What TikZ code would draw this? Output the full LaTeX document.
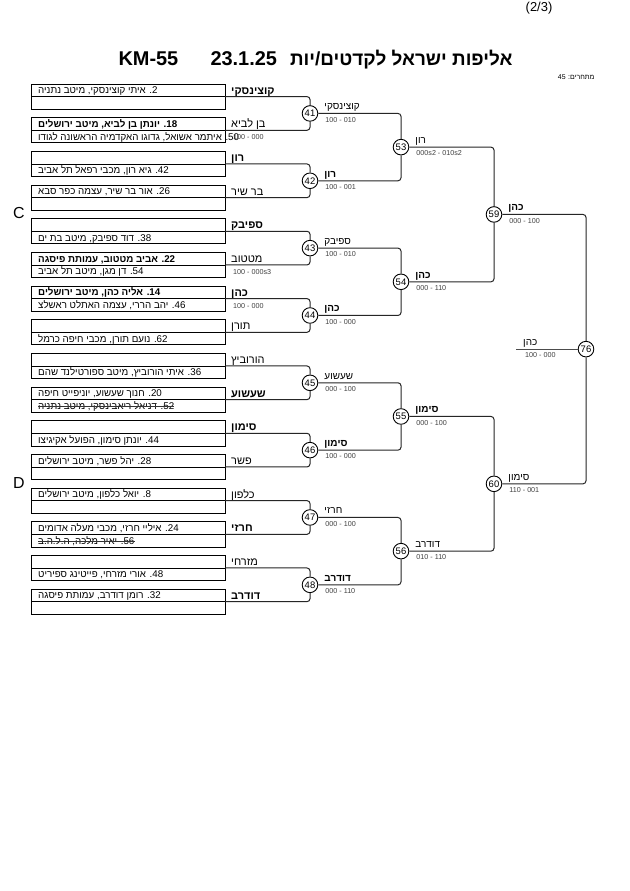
\documentclass[tikz,border=0pt]{standalone}
\usepackage{fontspec}
\setmainfont{Liberation Sans}
\newfontfamily\hebfont[Script=Hebrew]{Liberation Sans}
\TeXXeTstate=1
\usetikzlibrary{positioning}

% right-to-left text
\newcommand{\heb}[1]{{\hebfont\beginR #1\endR}}

\tikzset{
  cell/.style={draw, line width=0.8bp, minimum width=194bp, minimum height=12.6bp,
    inner sep=0pt, outer sep=0pt, anchor=north west},
  player/.style={anchor=base west, inner sep=0pt, font=\fontsize{9.8}{11}\selectfont},
  entrant/.style={anchor=base west, inner sep=0pt, font=\fontsize{11}{12}\selectfont},
  victor/.style={anchor=base west, inner sep=0pt, font=\fontsize{10}{11}\selectfont},
  score/.style={anchor=base west, inner sep=0pt, text=black!75, font=\fontsize{7.2}{8}\selectfont},
  bout/.style={circle, draw, line width=0.9bp, fill=white, minimum size=15.6bp,
    inner sep=0pt, font=\fontsize{9.5}{11}\selectfont},
  link/.style={draw=black!85, line width=1bp, rounded corners=3bp},
  strike/.style={draw=black!80, line width=0.7bp},
}

\begin{document}
\begin{tikzpicture}[x=1bp, y=-1bp]
    % the page, 630 x 891
    \path[use as bounding box, fill=white] (0,0) rectangle (630,891);

    % heading
    \node[font=\fontsize{13}{15}\selectfont] (page) at (539,8) {(2/3)};
    \node[anchor=base east, font=\fontsize{19}{23}\selectfont\bfseries] (title) at (516,65) {\heb{אליפות ישראל לקדטים/יות}};
    \node[anchor=base west, font=\fontsize{20}{24}\selectfont\bfseries] (date) at (207,65) {23.1.25};
    \node[anchor=base west, font=\fontsize{20}{24}\selectfont\bfseries] (cat) at (115,65) {KM-55};
    \node[anchor=base east, font=\fontsize{7}{8}\selectfont] (count) at (598,79) {\heb{מתחרים: 45}};

    % pool letters
    \node[font=\fontsize{16}{18}\selectfont] (poolC) at (19,213) {C};
    \node[font=\fontsize{16}{18}\selectfont] (poolD) at (19,483) {D};

    % first round: two rows per draw box
    \foreach \i/\up/\dn/\nm in {
        1/{2. איתי קוצינסקי, מיטב נתניה}/{}/{\bfseries קוצינסקי},
        2/{\bfseries 18. יונתן בן לביא, מיטב ירושלים}/{50. איתמר אשואל, גדוגו האקדמיה הראשונה לגודו}/{בן לביא},
        3/{}/{42. גיא רון, מכבי רפאל תל אביב}/{\bfseries רון},
        4/{26. אור בר שיר, עצמה כפר סבא}/{}/{בר שיר},
        5/{}/{38. דוד ספיבק, מיטב בת ים}/{\bfseries ספיבק},
        6/{\bfseries 22. אביב מטטוב, עמותת פיסגה}/{54. דן מגן, מיטב תל אביב}/{מטטוב},
        7/{\bfseries 14. אליה כהן, מיטב ירושלים}/{46. יהב הררי, עצמה האתלט ראשלצ}/{\bfseries כהן},
        8/{}/{62. נועם תורן, מכבי חיפה כרמל}/{תורן},
        9/{}/{36. איתי הורוביץ, מיטב ספורטילנד שהם}/{הורוביץ},
        10/{20. חנוך שעשוע, יוניפייט חיפה}/{52. דניאל ריאבינסקי, מיטב נתניה}/{\bfseries שעשוע},
        11/{}/{44. יונתן סימון, הפועל אקיגיצו}/{\bfseries סימון},
        12/{28. יהל פשר, מיטב ירושלים}/{}/{פשר},
        13/{8. יואל כלפון, מיטב ירושלים}/{}/{כלפון},
        14/{24. איליי חרזי, מכבי מעלה אדומים}/{56. יאיר מלכה, ה.ל.ה.ב}/{\bfseries חרזי},
        15/{}/{48. אורי מזרחי, פייטינג ספיריט}/{מזרחי},
        16/{32. רומן דודרב, עמותת פיסגה}/{}/{\bfseries דודרב}}{
        \pgfmathsetmacro{\ytop}{84+(\i-1)*33.67}
        \node[cell] (up\i) at (31,\ytop) {};
        \node[cell, below=0pt of up\i] (dn\i) {};
        \node[player] (tu\i) at (38,\ytop+9.8) {\heb{\up}};
        \node[player] (td\i) at (38,\ytop+22.4) {\heb{\dn}};
        \node[entrant] (nm\i) at (231,\ytop+10) {\heb{\nm}};
    }

    % withdrawn
    \draw[strike] ([yshift=3bp]td10.base west) -- ([yshift=3bp]td10.base east);
    \draw[strike] ([yshift=3bp]td14.base west) -- ([yshift=3bp]td14.base east);

    % earlier results
    \node[score] (sc2) at ([xshift=2bp,yshift=-12bp]nm2.base west) {100 - 000};
    \node[score] (sc6) at ([xshift=2bp,yshift=-12bp]nm6.base west) {100 - 000s3};
    \node[score] (sc7) at ([xshift=2bp,yshift=-12bp]nm7.base west) {100 - 000};

    % bouts
    \node[bout] (m41) at (310,113.44) {41};
    \node[bout] (m42) at (310,180.78) {42};
    \node[bout] (m43) at (310,248.12) {43};
    \node[bout] (m44) at (310,315.46) {44};
    \node[bout] (m45) at (310,382.80) {45};
    \node[bout] (m46) at (310,450.14) {46};
    \node[bout] (m47) at (310,517.48) {47};
    \node[bout] (m48) at (310,584.82) {48};
    \node[bout] (m53) at (401,147.11) {53};
    \node[bout] (m54) at (401,281.79) {54};
    \node[bout] (m55) at (401,416.47) {55};
    \node[bout] (m56) at (401,551.15) {56};
    \node[bout] (m59) at (494,214.45) {59};
    \node[bout] (m60) at (494,483.81) {60};
    \node[bout] (m76) at (586,349.13) {76};

    % box to bout
    \foreach \k/\a/\b in {41/1/2, 42/3/4, 43/5/6, 44/7/8, 45/9/10, 46/11/12, 47/13/14, 48/15/16}{
        \draw[link] (up\a.south east) -| (m\k);
        \draw[link] (up\b.south east) -| (m\k);
    }

    % bout to bout
    \foreach \k/\a/\b in {53/41/42, 54/43/44, 55/45/46, 56/47/48, 59/53/54, 60/55/56, 76/59/60}{
        \draw[link] (m\a) -| (m\k);
        \draw[link] (m\b) -| (m\k);
    }

    % winners and scores
    \foreach \k/\nm/\res in {
        41/{קוצינסקי}/{100 - 010}, 42/{\bfseries רון}/{100 - 001},
        43/{ספיבק}/{100 - 010}, 44/{\bfseries כהן}/{100 - 000},
        45/{שעשוע}/{000 - 100}, 46/{\bfseries סימון}/{100 - 000},
        47/{חרזי}/{000 - 100}, 48/{\bfseries דודרב}/{000 - 110},
        53/{רון}/{000s2 - 010s2}, 54/{\bfseries כהן}/{000 - 110},
        55/{\bfseries סימון}/{000 - 100}, 56/{דודרב}/{010 - 110},
        59/{\bfseries כהן}/{000 - 100}, 60/{סימון}/{110 - 001}}{
        \node[victor] (w\k) at ([xshift=6bp,yshift=3.5bp]m\k.east) {\heb{\nm}};
        \node[score] (s\k) at ([xshift=7bp,yshift=-8.8bp]m\k.east) {\res};
    }

    % the other pool's winner
    \coordinate (f76) at (516,349.13);
    \draw[link, draw=black!70, line width=0.8bp] (f76) -- (m76);
    \node[victor] (w76) at ([xshift=7bp,yshift=3.5bp]f76) {\heb{כהן}};
    \node[score] (s76) at ([xshift=9bp,yshift=-8.8bp]f76) {100 - 000};

\end{tikzpicture}
\end{document}
